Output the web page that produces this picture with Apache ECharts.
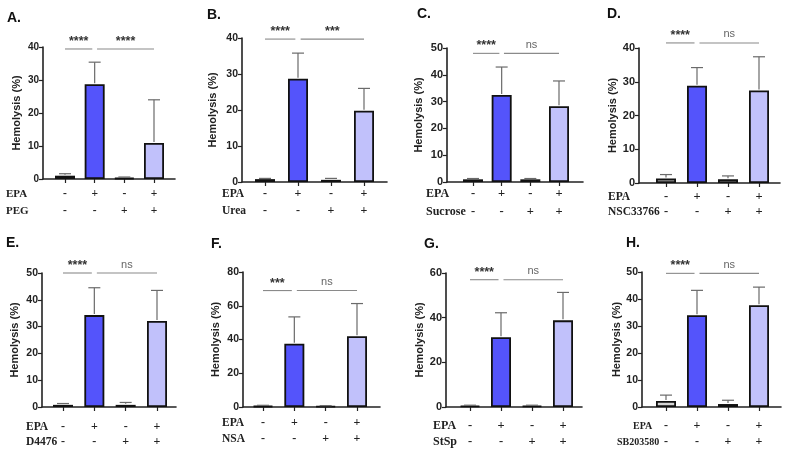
<!DOCTYPE html>
<html>
<head>
<meta charset="utf-8">
<script src="https://cdn.jsdelivr.net/npm/echarts@6.0.0/dist/echarts.min.js"></script>
<style>
html, body { margin: 0; padding: 0; background: #fff; }
#main { width: 790px; height: 457px; }
</style>
</head>
<body>
<div id="main"></div>
<script>
// 数据
var letters = ['A.', 'B.', 'C.', 'D.', 'E.', 'F.', 'G.', 'H.'];
var treatments = ['PEG', 'Urea', 'Sucrose', 'NSC33766', 'D4476', 'NSA', 'StSp', 'SB203580'];
var epaSigns = ['-', '+', '-', '+'];
var treatSigns = ['-', '-', '+', '+'];
var means = [
    [1.0, 28.7, 0.3, 10.9],
    [0.8, 28.7, 0.6, 19.8],
    [1.0, 32.5, 1.0, 28.3],
    [1.3, 28.8, 1.1, 27.4],
    [0.8, 34.3, 0.8, 32.1],
    [0.6, 37.5, 0.5, 41.9],
    [0.5, 31.2, 0.5, 38.8],
    [2.2, 34.0, 1.1, 37.7]
];
var sds = [
    [0.6, 6.7, 0.3, 13.1],
    [0.2, 7.1, 0.4, 6.2],
    [0.3, 10.4, 0.3, 9.4],
    [1.2, 5.4, 1.0, 10.0],
    [0.5, 10.2, 0.9, 11.4],
    [0.4, 15.9, 0.3, 19.4],
    [0.3, 11.0, 0.3, 12.5],
    [2.2, 9.2, 1.4, 6.7]
];
var yMax = [40, 40, 50, 40, 50, 80, 60, 50];
var yStep = [10, 10, 10, 10, 10, 20, 20, 10];
var sigTexts = [
    ['****', '****'], ['****', '***'], ['****', 'ns'], ['****', 'ns'],
    ['****', 'ns'], ['***', 'ns'], ['****', 'ns'], ['****', 'ns']
];
var sigLevel = [39.4, 39.7, 48, 41.5, 50, 69, 57, 49.5];
var sigSpans = [[1, 1.92], [2.08, 4]];

// 版面 (像素)
var layout = [
    {l: 43, r: 175, t: 47, b: 179, c1: 65, c4: 154, r1: 194, r2: 211, rx: [6, 6], tx: 7, ty: 11, fs: 10, rf: 11, gap: 21},
    {l: 242, r: 387, t: 38, b: 182, c1: 265, c4: 364, r1: 194, r2: 211, rx: [222, 222], tx: 207, ty: 8, fs: 10.5, rf: 11.5, gap: 24},
    {l: 447, r: 583, t: 48, b: 182, c1: 473, c4: 559, r1: 194, r2: 212, rx: [426, 426], tx: 417, ty: 7, fs: 11, rf: 12, gap: 23},
    {l: 639, r: 780, t: 48, b: 183, c1: 666, c4: 759, r1: 197, r2: 212, rx: [608, 608], tx: 607, ty: 7, fs: 11, rf: 11.5, gap: 15},
    {l: 42, r: 176, t: 273, b: 407, c1: 63, c4: 157, r1: 427, r2: 442, rx: [26, 26], tx: 6, ty: 236, fs: 10.5, rf: 11.5, gap: 22},
    {l: 243, r: 380, t: 272, b: 407, c1: 263, c4: 357, r1: 423, r2: 439, rx: [222, 222], tx: 211, ty: 237, fs: 10.5, rf: 11.5, gap: 22},
    {l: 446, r: 582, t: 273, b: 407, c1: 470, c4: 563, r1: 426, r2: 442, rx: [433, 433], tx: 424, ty: 237, fs: 11, rf: 12, gap: 20},
    {l: 642, r: 781, t: 272, b: 407, c1: 666, c4: 759, r1: 426, r2: 442, rx: [633, 617], tx: 626, ty: 236, fs: 10.5, rf: 10, gap: 18}
];

var barColors = ['#d4d4d4', '#5454fb', '#d4d4d4', '#c1c1fb'];
var ink = '#222';
var sans = 'Liberation Sans';
var serif = 'Liberation Serif';

window.onload = function () {
    var myChart = echarts.init(document.getElementById('main'));

    var grids = [], xAxes = [], yAxes = [], series = [], titles = [], graphics = [];

    layout.forEach(function (g, i) {
        var unit = (g.c4 - g.c1) / 3;
        var lh = g.r2 - g.r1;
        grids.push({left: g.l, top: g.t, width: g.r - g.l, height: g.b - g.t});

        xAxes.push({
            type: 'value', gridIndex: i,
            min: 1 - (g.c1 - g.l) / unit,
            max: 4 + (g.r - g.c4) / unit,
            splitLine: {show: false},
            axisLine: {show: true, lineStyle: {color: ink, width: 1.6}},
            axisTick: {show: true, customValues: [1, 2, 3, 4], length: 4, lineStyle: {color: ink, width: 1.2}},
            axisLabel: {
                customValues: [1, 2, 3, 4],
                margin: g.r1 - g.b - lh / 2,
                lineHeight: lh,
                fontFamily: serif, fontWeight: 'bold', fontSize: g.fs + 1.5, color: ink,
                formatter: function (v) {
                    var k = Math.round(v) - 1;
                    return epaSigns[k] + '\n' + treatSigns[k];
                }
            }
        });

        yAxes.push({
            type: 'value', gridIndex: i,
            min: 0, max: yMax[i], interval: yStep[i],
            splitLine: {show: false},
            axisLine: {show: true, lineStyle: {color: ink, width: 1.6}},
            axisTick: {show: true, length: 4, lineStyle: {color: ink, width: 1.2}},
            axisLabel: {fontFamily: sans, fontWeight: 'bold', fontSize: g.fs, color: ink, margin: 4},
            name: 'Hemolysis (%)',
            nameLocation: 'middle',
            nameGap: g.gap,
            nameTextStyle: {fontFamily: sans, fontWeight: 'bold', fontSize: 11, color: ink}
        });

        series.push({
            type: 'bar', xAxisIndex: i, yAxisIndex: i,
            barWidth: 20,
            data: means[i].map(function (v, k) {
                return {value: [k + 1, v], itemStyle: {color: barColors[k]}};
            }),
            itemStyle: {borderColor: '#111', borderWidth: 1.8},
            silent: true
        });

        series.push({
            type: 'custom', xAxisIndex: i, yAxisIndex: i, z: 3,
            data: means[i].map(function (v, k) { return [k + 1, v, sds[i][k]]; }),
            renderItem: function (params, api) {
                var x = api.value(0), m = api.value(1), s = api.value(2);
                var p0 = api.coord([x, m]);
                var p1 = api.coord([x, m + s]);
                var st = {stroke: '#6a6a6a', lineWidth: 1.2};
                return {type: 'group', children: [
                    {type: 'line', shape: {x1: p0[0], y1: p0[1] - 1, x2: p1[0], y2: p1[1]}, style: st},
                    {type: 'line', shape: {x1: p1[0] - 6, y1: p1[1], x2: p1[0] + 6, y2: p1[1]}, style: st}
                ]};
            }
        });

        series.push({
            type: 'custom', xAxisIndex: i, yAxisIndex: i, z: 3,
            data: sigSpans.map(function (s) { return [s[0], s[1], sigLevel[i]]; }),
            renderItem: function (params, api) {
                var a = api.coord([api.value(0), api.value(2)]);
                var b = api.coord([api.value(1), api.value(2)]);
                var txt = sigTexts[i][params.dataIndex];
                var isNs = txt === 'ns';
                return {type: 'group', children: [
                    {type: 'line', shape: {x1: a[0], y1: a[1], x2: b[0], y2: b[1]}, style: {stroke: '#8a8a8a', lineWidth: 1.1}},
                    {type: 'text', x: (a[0] + b[0]) / 2, y: a[1] - (isNs ? 3 : 1),
                        style: {text: txt, align: 'center', verticalAlign: 'bottom',
                            fontFamily: sans, fontSize: isNs ? 11 : 12.5, fontWeight: isNs ? 'normal' : 'bold',
                            fill: isNs ? '#666' : '#333'}}
                ]};
            }
        });

        titles.push({
            text: letters[i], left: g.tx, top: g.ty, padding: 0,
            textStyle: {fontFamily: sans, fontWeight: 'bold', fontSize: 14, color: '#111'}
        });

        [g.r1, g.r2].forEach(function (ry, k) {
            graphics.push({
                type: 'text', x: g.rx[k], y: ry,
                style: {text: k === 0 ? 'EPA' : treatments[i], verticalAlign: 'middle',
                    fontFamily: serif, fontWeight: 'bold', fontSize: g.rf, fill: ink}
            });
        });
    });

    var option = {
        animation: false,
        title: titles,
        grid: grids,
        xAxis: xAxes,
        yAxis: yAxes,
        series: series,
        graphic: graphics
    };

    myChart.setOption(option);
};
</script>
</body>
</html>
